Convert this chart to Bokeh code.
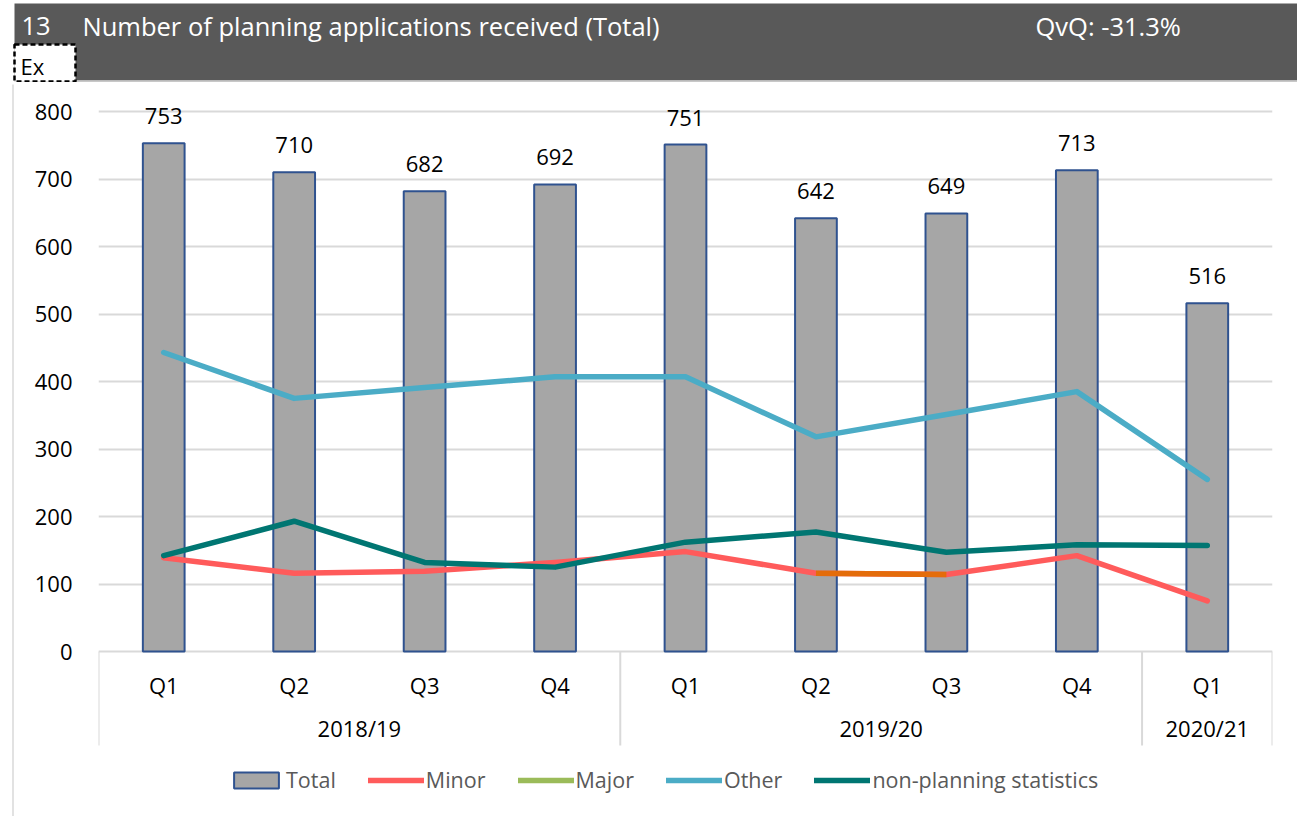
from bokeh.plotting import figure
from bokeh.layouts import column, row
from bokeh.models import ColumnDataSource, Range1d, FixedTicker, Legend, LegendItem
from bokeh.core.properties import value
from bokeh.embed import file_html
from bokeh.resources import INLINE

nan = float("nan")

# ---------------- data ----------------
quarters = ["Q1", "Q2", "Q3", "Q4", "Q1", "Q2", "Q3", "Q4", "Q1"]
years = ["2018/19", "2019/20", "2020/21"]
year_sizes = [4, 4, 1]
total = [753, 710, 682, 692, 751, 642, 649, 713, 516]
minor = [139, 116, 119, 132, 148, 116, 114, 142, 75]
major = [nan, nan, nan, nan, nan, nan, nan, nan, nan]
other = [443, 375, 391, 407, 407, 318, 351, 385, 255]
non_planning = [142, 193, 132, 125, 162, 177, 147, 158, 157]
highlight_from, highlight_to = 5, 6   # orange segment on the Minor line
y_ticks = [0, 100, 200, 300, 400, 500, 600, 700, 800]
chart_number = "13"
chart_title = "Number of planning applications received (Total)"
qvq_text = "QvQ: -31.3%"
ex_text = "Ex"

FONT = "Open Sans"
W = 1297
HEAD_H = 82
CHART_H = 816 - HEAD_H
EDGE_W = 14


def no_align(fig):
    if "frame_align" in fig.properties():
        fig.frame_align = False


# ---------------- header strip ----------------
h = figure(width=W, height=HEAD_H, output_backend="svg", toolbar_location=None,
           x_range=Range1d(0, W), y_range=Range1d(HEAD_H, 0),
           min_border=0, min_border_left=0, min_border_right=0,
           min_border_top=0, min_border_bottom=0)
no_align(h)
h.axis.visible = False
h.grid.visible = False
h.outline_line_color = None
h.quad(left=[14], right=[W], top=[3], bottom=[80], fill_color="#595959",
       line_color=None)
h.quad(left=[14], right=[W], top=[80], bottom=[82], fill_color="#C8C8C8",
       line_color=None)
h.quad(left=[14], right=[75], top=[44], bottom=[81], fill_color="white",
       line_color="black", line_width=2.5, line_dash="5 3")
h.text(x=[21, 82, 1035], y=[25, 25, 25], text=[chart_number, chart_title, qvq_text],
       text_font=value(FONT), text_font_size="25.5px", text_color="white",
       text_baseline="middle", text_align="left")
h.text(x=[20], y=[65], text=[ex_text], text_font=value(FONT),
       text_font_size="22px", text_color="black", text_baseline="middle",
       text_align="left")

# ---------------- left chart-area border ----------------
e = figure(width=EDGE_W, height=CHART_H, output_backend="svg", toolbar_location=None,
           x_range=Range1d(0, EDGE_W), y_range=Range1d(CHART_H, 0),
           min_border=0, min_border_left=0, min_border_right=0,
           min_border_top=0, min_border_bottom=0)
no_align(e)
e.axis.visible = False
e.grid.visible = False
e.outline_line_color = None
e.segment(x0=[12.5], x1=[12.5], y0=[2], y1=[CHART_H], line_color="#D9D9D9",
          line_width=1.5)

# ---------------- chart ----------------
idx = list(range(len(quarters)))
n = len(quarters)
px_per_unit = 0.675
zero_px = 569  # distance of y=0 from the chart top

p = figure(width=W - EDGE_W, height=CHART_H, output_backend="svg",
           toolbar_location=None,
           x_range=Range1d(-0.5, n - 0.5),
           y_range=Range1d(-(CHART_H - zero_px) / px_per_unit, zero_px / px_per_unit),
           min_border_left=98 - EDGE_W, min_border_right=25, min_border_top=0,
           min_border_bottom=0)
no_align(p)
p.outline_line_color = None
p.xaxis.visible = False
p.xgrid.visible = False
p.yaxis.ticker = FixedTicker(ticks=y_ticks)
p.ygrid.ticker = FixedTicker(ticks=y_ticks)
p.ygrid.grid_line_color = "#D9D9D9"
p.ygrid.grid_line_width = 2
p.yaxis.axis_line_color = None
p.yaxis.major_tick_line_color = None
p.yaxis.minor_tick_line_color = None
p.yaxis.major_label_standoff = 20
p.yaxis.major_label_text_font = FONT
p.yaxis.major_label_text_font_size = "22px"
p.yaxis.major_label_text_color = "#000000"

src = ColumnDataSource(dict(x=idx, total=total, minor=minor, major=major,
                            other=other, np=non_planning,
                            lbl=[str(v) for v in total]))
bars = p.vbar(x="x", top="total", bottom=0, width=0.32, source=src,
              fill_color="#A6A6A6", line_color="#2F528F", line_width=2)
p.text(x="x", y="total", text="lbl", source=src, y_offset=-27,
       text_align="center", text_baseline="alphabetic",
       text_font=value(FONT), text_font_size="22px", text_color="#000000")

lkw = dict(line_width=5.5, line_join="round", line_cap="round")
r_minor = p.line("x", "minor", source=src, line_color="#FF5B5B", **lkw)
p.line(idx[highlight_from:highlight_to + 1], minor[highlight_from:highlight_to + 1],
       line_color="#E46C0A", line_width=5.5, line_join="round", line_cap="butt")
r_major = p.line("x", "major", source=src, line_color="#9BBB59", **lkw)
r_other = p.line("x", "other", source=src, line_color="#4BACC6", **lkw)
r_np = p.line("x", "np", source=src, line_color="#007672", **lkw)

# Excel-style multi-level category axis
y_q = -33 / px_per_unit
y_g = -76 / px_per_unit
y_sep = -94 / px_per_unit
p.text(x=idx, y=[y_q] * n, text=quarters, text_align="center",
       text_baseline="middle", text_font=value(FONT), text_font_size="22px",
       text_color="#000000")
bounds = [-0.5]
centers = []
for s in year_sizes:
    centers.append(bounds[-1] + s / 2)
    bounds.append(bounds[-1] + s)
p.text(x=centers, y=[y_g] * len(years), text=years, text_align="center",
       text_baseline="middle", text_font=value(FONT), text_font_size="22px",
       text_color="#000000")
p.segment(x0=bounds, x1=bounds, y0=[0] * len(bounds), y1=[y_sep] * len(bounds),
          line_color="#D9D9D9", line_width=2)

legend = Legend(items=[LegendItem(label="Total", renderers=[bars]),
                       LegendItem(label="Minor", renderers=[r_minor]),
                       LegendItem(label="Major", renderers=[r_major]),
                       LegendItem(label="Other", renderers=[r_other]),
                       LegendItem(label="non-planning statistics", renderers=[r_np])],
                orientation="horizontal", location=(130, 22),
                glyph_width=56, glyph_height=20, label_standoff=2, spacing=32,
                padding=4, margin=0, border_line_color=None,
                background_fill_alpha=0,
                label_text_font=FONT, label_text_font_size="21.5px",
                label_text_color="#595959")
p.add_layout(legend)

layout = column(h, row(e, p, spacing=0), spacing=0)
open("out.html", "w").write(file_html(layout, INLINE))
